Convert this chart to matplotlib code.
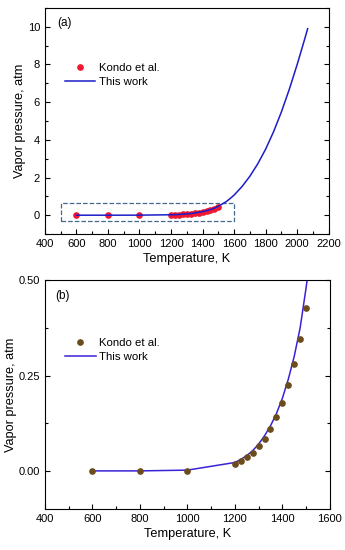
import numpy as np
from matplotlib import pyplot as plt
from matplotlib.patches import Rectangle
from matplotlib.ticker import MultipleLocator

plt.rcParams['font.family'] = ['Liberation Sans', 'DejaVu Sans']

# Kondo et al. measured points
T_kondo = [600, 800, 1000, 1200, 1225, 1250, 1275, 1300, 1325, 1350,
           1375, 1400, 1425, 1450, 1475, 1500]
P_kondo = [0.0, 0.0, 0.001, 0.018, 0.026, 0.036, 0.048, 0.064, 0.084, 0.109,
           0.141, 0.179, 0.225, 0.280, 0.347, 0.427]

# This work (calculated curve)
T_calc = [600, 800, 1000, 1200, 1225, 1250, 1275, 1300, 1325, 1350, 1375,
          1400, 1425, 1450, 1475, 1500, 1525, 1550, 1575, 1600, 1650, 1700,
          1750, 1800, 1850, 1900, 1950, 2000, 2050, 2066]
P_calc = [0.0, 0.0, 0.002, 0.022, 0.030, 0.040, 0.053, 0.070, 0.092, 0.118,
          0.150, 0.190, 0.240, 0.300, 0.375, 0.480, 0.595, 0.72, 0.885, 1.07,
          1.52, 2.07, 2.73, 3.51, 4.43, 5.49, 6.69, 8.01, 9.43, 9.9]

xticks_a = [400, 600, 800, 1000, 1200, 1400, 1600, 1800, 2000, 2200]
yticks_a = [0, 2, 4, 6, 8, 10]
xticks_b = [400, 600, 800, 1000, 1200, 1400, 1600]
yticks_b = [0.0, 0.25, 0.50]


def style_axes(ax, xminor, yminor, ypad):
    ax.xaxis.set_minor_locator(MultipleLocator(xminor))
    ax.yaxis.set_minor_locator(MultipleLocator(yminor))
    ax.tick_params(which='both', direction='in', top=False, right=True,
                   labelsize=8, width=0.8)
    ax.tick_params(which='major', length=3.5)
    ax.tick_params(which='minor', length=2)
    for s in ax.spines.values():
        s.set_linewidth(0.8)
    ax.set_xlabel('Temperature, K', fontsize=9.2, labelpad=3)
    ax.set_ylabel('Vapor pressure, atm', fontsize=9.2, labelpad=ypad)


def main():
    fig = plt.figure(figsize=(3.45, 5.5), dpi=100)

    # panel (a)
    ax1 = fig.add_axes([0.130, 0.5745, 0.823, 0.411])
    ax1.plot(T_kondo, P_kondo, 'o', color='#f01830', markersize=3.8,
             label='Kondo et al.', zorder=3)
    ax1.plot(T_calc, P_calc, '-', color='#1c1cc8', linewidth=1.1,
             label='This work', zorder=4)
    ax1.add_patch(Rectangle((500, -0.3), 1100, 0.97, fill=False,
                            edgecolor='#46688c', linestyle='--', linewidth=0.9))
    ax1.set_xlim(400, 2200)
    ax1.set_ylim(-1, 11)
    ax1.set_xticks(xticks_a)
    ax1.set_yticks(yticks_a)
    style_axes(ax1, 100, 1, 1.5)
    ax1.text(0.042, 0.934, '(a)', transform=ax1.transAxes, fontsize=8.5,
             va='center')
    ax1.legend(loc='center left', bbox_to_anchor=(0.07, 0.703), frameon=False,
               fontsize=8.2, borderpad=0, borderaxespad=0, handlelength=2.7,
               handletextpad=0.3, labelspacing=0.4)

    # panel (b)
    ax2 = fig.add_axes([0.130, 0.0745, 0.826, 0.416])
    ax2.plot(T_kondo, P_kondo, 'o', color='#6b4c1c', markersize=3.8,
             label='Kondo et al.', zorder=3)
    ax2.plot(T_calc, P_calc, '-', color='#3a22d6', linewidth=1.1,
             label='This work', zorder=2)
    ax2.set_xlim(400, 1600)
    ax2.set_ylim(-0.1, 0.5)
    ax2.set_xticks(xticks_b)
    ax2.set_yticks(yticks_b)
    ax2.set_yticklabels(['%.2f' % v for v in yticks_b])
    style_axes(ax2, 100, 0.125, 1.0)
    ax2.text(0.035, 0.93, '(b)', transform=ax2.transAxes, fontsize=8.5,
             va='center')
    ax2.legend(loc='center left', bbox_to_anchor=(0.07, 0.695), frameon=False,
               fontsize=8.2, borderpad=0, borderaxespad=0, handlelength=2.7,
               handletextpad=0.3, labelspacing=0.4)

    fig.savefig('out.png', dpi=100)


if __name__ == '__main__':
    main()
